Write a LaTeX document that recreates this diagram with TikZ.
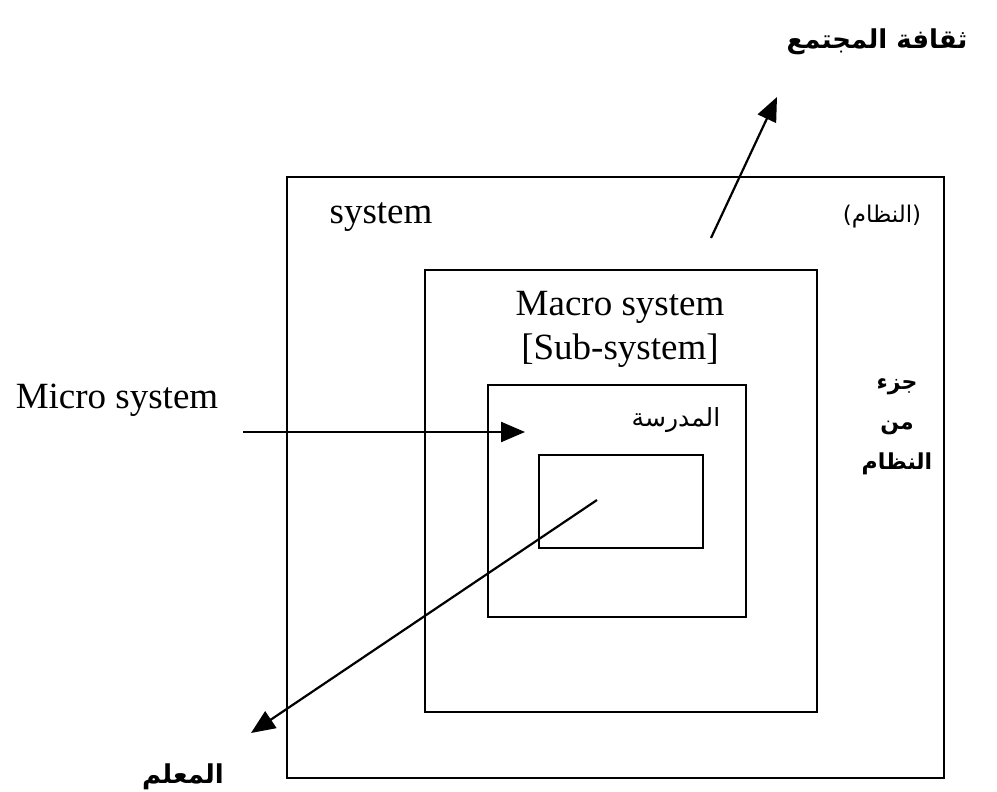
\documentclass[tikz,border=0pt]{standalone}
\usepackage{fontspec}
\setmainfont{Liberation Serif}
\newfontfamily\arabicfont[Script=Arabic]{DejaVu Sans}
\TeXXeTstate=1
\usetikzlibrary{arrows.meta}
\begin{document}
\begin{tikzpicture}[x=0.5pt,y=-0.5pt,
  box/.style={draw,line width=1.2pt},
  arr/.style={line width=1.1pt,-{Triangle[length=12pt,width=10pt]}},
  en/.style={font=\fontsize{18.5}{22}\selectfont,inner sep=0pt},
  ar/.style={font=\arabicfont\bfseries\fontsize{13}{22}\selectfont,inner sep=0pt}]
\useasboundingbox (0,0) rectangle (997,792);
\draw[box] (287,177) rectangle (944,778);
\draw[box] (425,270) rectangle (817,712);
\draw[box] (488,385) rectangle (746,617);
\draw[box] (539,455) rectangle (703,548);
\node[ar] (culture) at (877,42) {\beginR ثقافة المجتمع\endR};
\node[en] (sys) at (381,217) {system};
\node[ar,font=\arabicfont\fontsize{11.5}{22}\selectfont] (nizam) at (882,217) {\beginR(النظام)\endR};
\node[en,align=center] (macro) at (620,329) {Macro system\\{[Sub-system]}};
\node[ar,align=center,font=\arabicfont\bfseries\fontsize{11}{20}\selectfont] (part) at (897,427) {\beginR جزء\endR\\\beginR من\endR\\\beginR النظام\endR};
\node[en] (micro) at (117,400) {Micro system};
\node[ar,font=\arabicfont\fontsize{12.5}{22}\selectfont] (school) at (676,420) {\beginR المدرسة\endR};
\node[ar] (teacher) at (183,777) {\beginR المعلم\endR};
\coordinate (upS) at (711,238);
\coordinate (upE) at (777,97);
\coordinate (miS) at (243,432);
\coordinate (miE) at (525,432);
\coordinate (teS) at (597,500);
\coordinate (teE) at (251,733);
\draw[arr] (upS) -- (upE);
\draw[arr] (miS) -- (miE);
\draw[arr] (teS) -- (teE);
\end{tikzpicture}
\end{document}
